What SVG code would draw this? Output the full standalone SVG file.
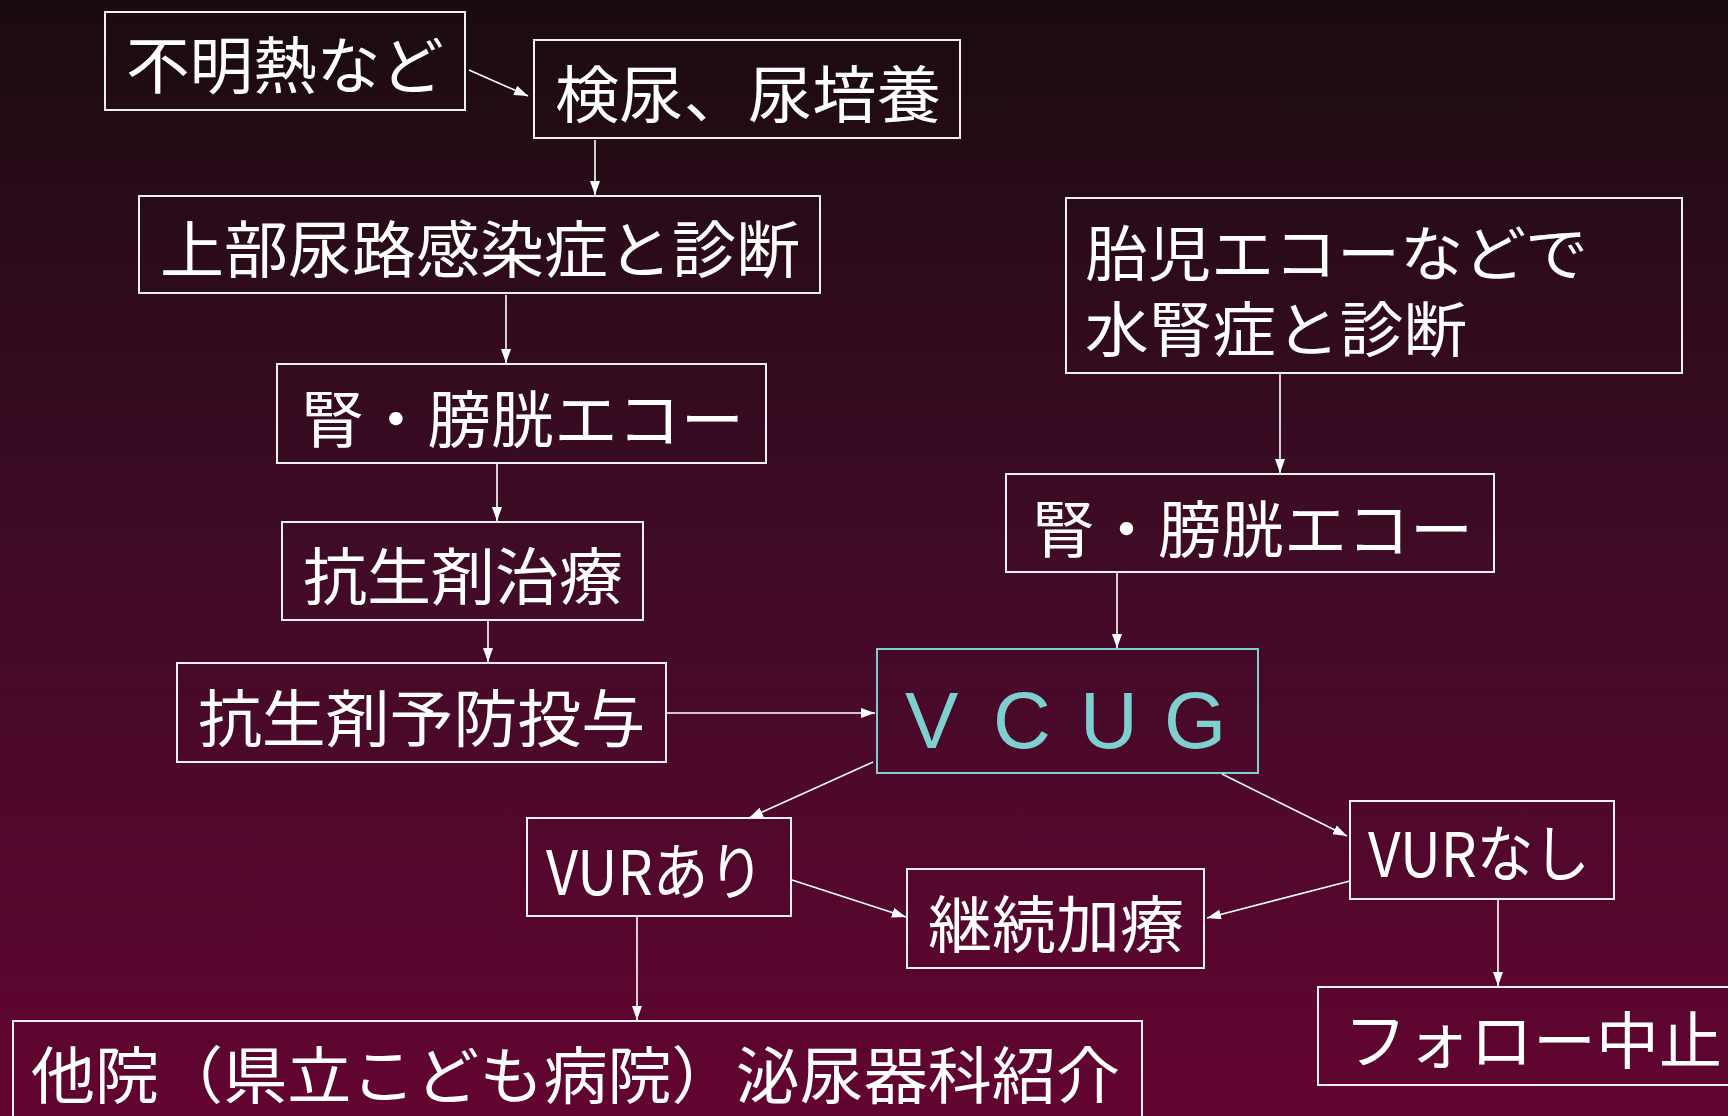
<svg xmlns="http://www.w3.org/2000/svg" width="1728" height="1116" viewBox="0 0 1728 1116">
<defs>
<linearGradient id="bg" x1="0" y1="0" x2="0" y2="1">
<stop offset="0" stop-color="#1a0b10"/>
<stop offset="0.5" stop-color="#400b26"/>
<stop offset="1" stop-color="#620430"/>
</linearGradient>
<marker id="arr" markerUnits="userSpaceOnUse" markerWidth="14" markerHeight="10" refX="14" refY="5" orient="auto">
<path d="M0,0 L14,5 L0,10 z" fill="#ffffff"/>
</marker>
<style>
.box{fill:none;stroke:#f0f0f0;stroke-width:2}
.cyan{fill:none;stroke:#7ecfd0;stroke-width:2}
.t{fill:#ffffff;font-family:"Noto Sans CJK JP","Noto Sans CJK SC",sans-serif;font-size:62px}
.c{fill:none;stroke:#ffffff;stroke-width:1.6;marker-end:url(#arr)}
</style>
</defs>
<rect x="0" y="0" width="1728" height="1116" fill="url(#bg)"/>
<g id="n1"><rect class="box" x="105" y="12" width="360" height="98"/><text class="t" x="126" y="89" textLength="318" lengthAdjust="spacingAndGlyphs">不明熱など</text></g>
<g id="n2"><rect class="box" x="534" y="40" width="426" height="98"/><text class="t" x="555" y="118" textLength="386" lengthAdjust="spacingAndGlyphs">検尿、尿培養</text></g>
<g id="n3"><rect class="box" x="139" y="196" width="681" height="97"/><text class="t" x="160" y="273" textLength="640" lengthAdjust="spacingAndGlyphs">上部尿路感染症と診断</text></g>
<g id="n4"><rect class="box" x="277" y="364" width="489" height="99"/><text class="t" x="301" y="443" textLength="443" lengthAdjust="spacingAndGlyphs">腎・膀胱エコー</text></g>
<g id="n5"><rect class="box" x="282" y="522" width="361" height="98"/><text class="t" x="303" y="600" textLength="320" lengthAdjust="spacingAndGlyphs">抗生剤治療</text></g>
<g id="n6"><rect class="box" x="177" y="663" width="489" height="99"/><text class="t" x="198" y="742" textLength="447" lengthAdjust="spacingAndGlyphs">抗生剤予防投与</text></g>
<g id="n7"><rect class="cyan" x="877" y="649" width="381" height="124"/><text x="905 993 1080 1164" y="748" fill="#7ecfd0" font-family="'Liberation Sans',sans-serif" font-size="80">VCUG</text></g>
<g id="n8"><rect class="box" x="527" y="818" width="264" height="98"/><text class="t" x="546" y="895" textLength="218" lengthAdjust="spacingAndGlyphs">VURあり</text></g>
<g id="n9"><rect class="box" x="907" y="869" width="297" height="99"/><text class="t" x="928" y="948" textLength="256" lengthAdjust="spacingAndGlyphs">継続加療</text></g>
<g id="n10"><rect class="box" x="1350" y="801" width="264" height="98"/><text class="t" x="1368" y="877" textLength="222" lengthAdjust="spacingAndGlyphs">VURなし</text></g>
<g id="n11"><rect class="box" x="1318" y="987" width="420" height="98"/><text class="t" x="1344" y="1064" textLength="378" lengthAdjust="spacingAndGlyphs">フォロー中止</text></g>
<g id="n12"><rect class="box" x="13" y="1021" width="1129" height="110"/><text class="t" x="31" y="1099" textLength="1089" lengthAdjust="spacingAndGlyphs">他院（県立こども病院）泌尿器科紹介</text></g>
<g id="n13"><rect class="box" x="1066" y="198" width="616" height="175"/><text class="t" x="1085" y="276" font-size="60" style="font-size:60px" textLength="503" lengthAdjust="spacingAndGlyphs">胎児エコーなどで</text><text class="t" x="1085" y="352" style="font-size:60px" textLength="382" lengthAdjust="spacingAndGlyphs">水腎症と診断</text></g>
<g id="n14"><rect class="box" x="1006" y="474" width="488" height="98"/><text class="t" x="1032" y="553" textLength="441" lengthAdjust="spacingAndGlyphs">腎・膀胱エコー</text></g>
<g id="connectors">
<line class="c" x1="469" y1="70" x2="528" y2="96"/>
<line class="c" x1="595" y1="140" x2="595" y2="195"/>
<line class="c" x1="506" y1="295" x2="506" y2="363"/>
<line class="c" x1="497" y1="464" x2="497" y2="521"/>
<line class="c" x1="488" y1="621" x2="488" y2="662"/>
<line class="c" x1="667" y1="713" x2="875" y2="713"/>
<line class="c" x1="1280" y1="374" x2="1280" y2="473"/>
<line class="c" x1="1117" y1="573" x2="1117" y2="648"/>
<line class="c" x1="873" y1="762" x2="749" y2="818"/>
<line class="c" x1="1222" y1="774" x2="1347" y2="836"/>
<line class="c" x1="792" y1="880" x2="906" y2="917"/>
<line class="c" x1="1350" y1="881" x2="1207" y2="918"/>
<line class="c" x1="637" y1="917" x2="637" y2="1020"/>
<line class="c" x1="1498" y1="900" x2="1498" y2="986"/>
</g>
</svg>
